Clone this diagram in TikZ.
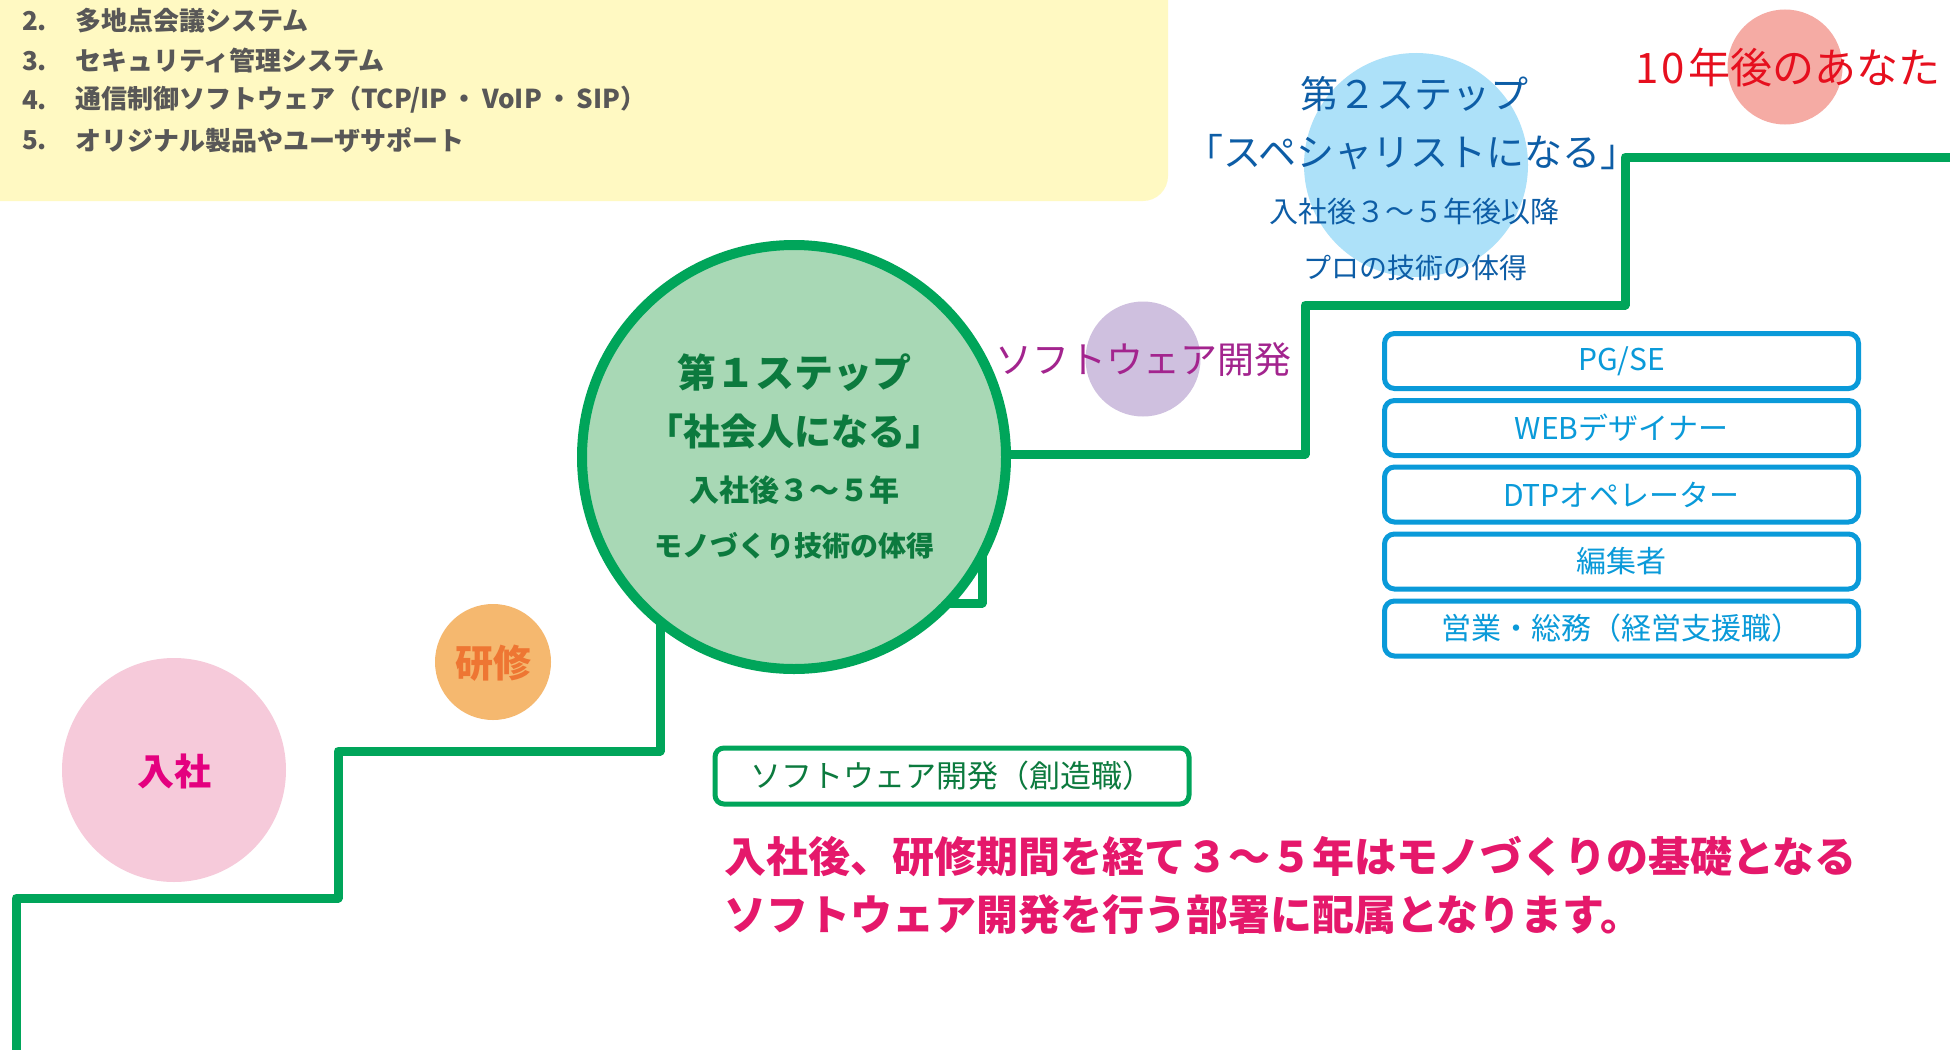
\documentclass[tikz,border=0pt]{standalone}
\usepackage{fontspec}
\newfontfamily\jp{Noto Sans CJK JP}
\definecolor{stairgreen}{RGB}{0,165,90}
\definecolor{circgreen}{RGB}{168,216,181}
\definecolor{darkgreen}{RGB}{12,122,62}
\definecolor{memoyellow}{RGB}{255,249,194}
\definecolor{memogray}{RGB}{88,87,87}
\definecolor{pinkfill}{RGB}{246,202,218}
\definecolor{pinktext}{RGB}{228,0,127}
\definecolor{orangefill}{RGB}{245,184,111}
\definecolor{orangetext}{RGB}{238,118,51}
\definecolor{purplefill}{RGB}{207,192,223}
\definecolor{purpletext}{RGB}{163,36,142}
\definecolor{bluefill}{RGB}{173,225,249}
\definecolor{bluetext}{RGB}{13,93,166}
\definecolor{salmonfill}{RGB}{245,171,164}
\definecolor{redtext}{RGB}{230,15,30}
\definecolor{boxblue}{RGB}{10,154,217}
\definecolor{deeppink}{RGB}{229,24,107}
\begin{document}
\begin{tikzpicture}[x=1pt,y=-1pt,
  txt/.style={inner sep=0pt, outer sep=0pt},
  blob/.style={circle, inner sep=0pt, draw=none},
  stairline/.style={draw=stairgreen, line width=9pt, line join=round, line cap=round},
  jobbox/.style={draw=boxblue, line width=5pt, rounded corners=10pt, minimum width=474pt, minimum height=55pt, inner sep=0pt, text=boxblue, font=\jp\fontsize{30}{36}\selectfont},
  memo/.style={txt, anchor=west, text=memogray, font=\jp\bfseries\fontsize{26}{30}\selectfont},
  stepone/.style={txt, text=darkgreen},
  steptwo/.style={txt, text=bluetext},
  note/.style={txt, anchor=west, text=deeppink, font=\jp\bfseries\fontsize{42}{48}\selectfont}
]
\useasboundingbox (0,0) rectangle (1950,1049);
\fill[white] (0,0) rectangle (1950,1049);

% yellow memo box
\fill[memoyellow, rounded corners=25pt] (-60,-60) rectangle (1168,201);
\node[memo] (n2) at (22,21) {2.};
\node[memo] (m2) at (75,21) {多地点会議システム};
\node[memo] (n3) at (22,61) {3.};
\node[memo] (m3) at (75,61) {セキュリティ管理システム};
\node[memo] (n4) at (22,100) {4.};
\node[memo] (m4) at (75,100) {通信制御ソフトウェア（TCP/IP\,・\,VoIP\,・\,SIP）};
\node[memo] (n5) at (22,140) {5.};
\node[memo] (m5) at (75,140) {オリジナル製品やユーザサポート};

% stair line
\coordinate (s0) at (16,1070);
\coordinate (s1) at (16,898);
\coordinate (s2) at (338,898);
\coordinate (s3) at (338,751);
\coordinate (s4) at (660,751);
\coordinate (s5) at (660,603);
\coordinate (s6) at (982,603);
\coordinate (s7) at (982,454);
\coordinate (s8) at (1305,454);
\coordinate (s9) at (1305,305);
\coordinate (s10) at (1625,305);
\coordinate (s11) at (1625,157);
\coordinate (s12) at (1980,157);
\draw[stairline] (s0) -- (s1) -- (s2) -- (s3) -- (s4) -- (s5) -- (s6) -- (s7) -- (s8) -- (s9) -- (s10) -- (s11) -- (s12);

% circles
\node[blob, fill=pinkfill, minimum size=224pt] (c1) at (174,770) {};
\node[blob, fill=orangefill, minimum size=116pt] (c2) at (493,662) {};
\node[circle, inner sep=0pt, draw=stairgreen, line width=10pt, fill=circgreen, minimum size=424pt] (c3) at (794,457) {};
\node[blob, fill=purplefill, minimum size=115pt] (c4) at (1143,359) {};
\node[blob, fill=bluefill, minimum size=224pt] (c5) at (1416,165) {};
\node[blob, fill=salmonfill, minimum size=115pt] (c6) at (1785,67) {};

% circle labels
\node[txt, text=pinktext, font=\jp\bfseries\fontsize{37}{40}\selectfont] (l1) at (174,771) {入社};
\node[txt, text=orangetext, font=\jp\bfseries\fontsize{38}{40}\selectfont] (l2) at (493,663) {研修};
\node[stepone, font=\jp\bfseries\fontsize{39}{44}\selectfont] (a1) at (794,373) {第１ステップ};
\node[stepone, font=\jp\bfseries\fontsize{37}{44}\selectfont] (a2) at (794,431) {「社会人になる」};
\node[stepone, font=\jp\bfseries\fontsize{30}{34}\selectfont] (a3) at (794,490) {入社後３～５年};
\node[stepone, font=\jp\bfseries\fontsize{28}{32}\selectfont] (a4) at (794,546) {モノづくり技術の体得};
\node[txt, text=purpletext, font=\jp\fontsize{37}{40}\selectfont] (l4) at (1143,360) {ソフトウェア開発};
\node[steptwo, font=\jp\fontsize{38}{44}\selectfont] (b1) at (1414,94) {第２ステップ};
\node[steptwo, font=\jp\fontsize{38}{44}\selectfont] (b2) at (1412,152) {「スペシャリストになる」};
\node[steptwo, font=\jp\fontsize{29}{34}\selectfont] (b3) at (1414,211) {入社後３～５年後以降};
\node[steptwo, font=\jp\fontsize{28}{32}\selectfont] (b4) at (1415,268) {プロの技術の体得};
\node[txt, text=redtext, font=\jp\fontsize{42}{46}\selectfont] (l6) at (1788,68) {1\kern3pt0\kern4pt年後のあなた};

% job boxes
\node[jobbox] (j1) at (1621.5,361) {PG/SE};
\node[jobbox] (j2) at (1621.5,428) {WEBデザイナー};
\node[jobbox] (j3) at (1621.5,494.5) {DTPオペレーター};
\node[jobbox] (j4) at (1621.5,561.5) {編集者};
\node[jobbox] (j5) at (1621.5,628.5) {営業・総務（経営支援職）};

% software box
\node[draw=stairgreen, line width=5pt, rounded corners=9pt, minimum width=474pt, minimum height=56pt, inner sep=0pt, text=darkgreen, font=\jp\fontsize{31}{36}\selectfont] (sw) at (952,776) {ソフトウェア開発（創造職）};

% bottom note
\node[note] (t1) at (724,857) {入社後、研修期間を経て３～５年はモノづくりの基礎となる};
\node[note] (t2) at (724,915) {ソフトウェア開発を行う部署に配属となります。};
\end{tikzpicture}
\end{document}
